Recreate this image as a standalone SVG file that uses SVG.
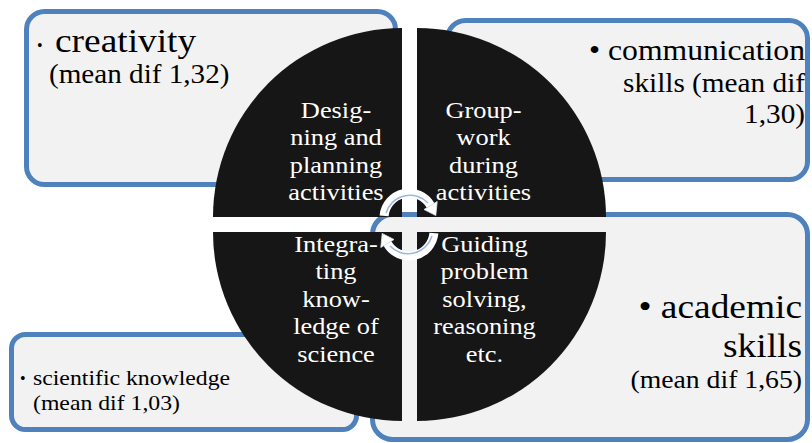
<svg xmlns="http://www.w3.org/2000/svg" width="812" height="443" viewBox="0 0 812 443">
<defs>
<style>
.box{fill:#F2F2F2;stroke:#4F81BD;stroke-width:5}
.quad{fill:#151515}
.qt{font-size:24px;fill:#FFFFFF;text-anchor:middle}
.bt{fill:#000000}
.band{fill:none;stroke:#FFFFFF;stroke-width:9}
.line{fill:none;stroke:#9DB8DE;stroke-width:1.6}
.head{fill:#FFFFFF;stroke:#DCE6F2;stroke-width:0.8}
</style>
<filter id="soft" x="-5%" y="-5%" width="110%" height="110%"><feGaussianBlur stdDeviation="0.7"/></filter>
</defs>
<rect width="812" height="443" fill="#FFFFFF"/>
<g font-family="Liberation Serif, Times New Roman, serif">

<g id="box-creativity">
<rect class="box" x="26.5" y="11.5" width="369" height="173" rx="18"/>
<text class="bt" font-family="Liberation Serif, serif" x="37" y="51" font-size="16">•</text>
<text class="bt" font-family="Liberation Serif, serif" transform="translate(55,0) scale(1.1,1)" x="0" y="52" font-size="34">creativity</text>
<text class="bt" font-family="Liberation Serif, serif" transform="translate(49,0) scale(1.1,1)" x="0" y="83" font-size="26.5">(mean dif 1,32)</text>
</g>

<g id="box-communication">
<rect class="box" x="447.5" y="20.5" width="360" height="159" rx="18"/>
<text class="bt" font-family="Liberation Serif, serif" transform="translate(805,0) scale(1.1,1)" x="0" y="60" font-size="28.8" text-anchor="end">• communication</text>
<text class="bt" font-family="Liberation Serif, serif" transform="translate(805,0) scale(1.1,1)" x="0" y="92" font-size="26.6" text-anchor="end">skills (mean dif</text>
<text class="bt" font-family="Liberation Serif, serif" transform="translate(805,0) scale(1.1,1)" x="0" y="123" font-size="26.6" text-anchor="end">1,30)</text>
</g>

<g id="box-academic">
<rect class="box" x="372.5" y="214.5" width="435" height="225" rx="20"/>
<text class="bt" font-family="Liberation Serif, serif" transform="translate(802,0) scale(1.1,1)" x="0" y="318" font-size="34" text-anchor="end">• academic</text>
<text class="bt" font-family="Liberation Serif, serif" transform="translate(802,0) scale(1.1,1)" x="0" y="357" font-size="34" text-anchor="end">skills</text>
<text class="bt" font-family="Liberation Serif, serif" transform="translate(802,0) scale(1.1,1)" x="0" y="388" font-size="25.2" text-anchor="end">(mean dif 1,65)</text>
</g>

<g id="box-scientific">
<rect class="box" x="11.5" y="334.5" width="345" height="95" rx="14"/>
<text class="bt" font-family="Liberation Serif, serif" x="20" y="384" font-size="16">•</text>
<text class="bt" font-family="Liberation Serif, serif" transform="translate(33,0) scale(1.1,1)" x="0" y="385" font-size="21.6">scientific knowledge</text>
<text class="bt" font-family="Liberation Serif, serif" transform="translate(33,0) scale(1.1,1)" x="0" y="410" font-size="21.6">(mean dif 1,03)</text>
</g>

<g id="quad-designing">
<path class="quad" filter="url(#soft)" d="M402,217 L213,217 A189,189 0 0 1 402,28 Z"/>
<text class="qt" font-family="Liberation Serif, serif" transform="translate(336,0) scale(1.1,1)"><tspan x="0" y="118">Desig-</tspan><tspan x="0" y="145.5">ning and</tspan><tspan x="0" y="173">planning</tspan><tspan x="0" y="200.5">activities</tspan></text>
</g>

<g id="quad-groupwork">
<path class="quad" filter="url(#soft)" d="M417,217 L417,28 A189,189 0 0 1 606,217 Z"/>
<text class="qt" font-family="Liberation Serif, serif" transform="translate(483.5,0) scale(1.1,1)"><tspan x="0" y="118">Group-</tspan><tspan x="0" y="145.5">work</tspan><tspan x="0" y="173">during</tspan><tspan x="0" y="200.5">activities</tspan></text>
</g>

<g id="quad-integrating">
<path class="quad" filter="url(#soft)" d="M402,232 L402,421 A189,189 0 0 1 213,232 Z"/>
<text class="qt" font-family="Liberation Serif, serif" transform="translate(336,0) scale(1.1,1)"><tspan x="0" y="252">Integra-</tspan><tspan x="0" y="279.5">ting</tspan><tspan x="0" y="307">know-</tspan><tspan x="0" y="334.5">ledge of</tspan><tspan x="0" y="362">science</tspan></text>
</g>

<g id="quad-guiding">
<path class="quad" filter="url(#soft)" d="M417,232 L606,232 A189,189 0 0 1 417,421 Z"/>
<text class="qt" font-family="Liberation Serif, serif" transform="translate(484.5,0) scale(1.1,1)"><tspan x="0" y="252">Guiding</tspan><tspan x="0" y="279.5">problem</tspan><tspan x="0" y="307">solving,</tspan><tspan x="0" y="334.5">reasoning</tspan><tspan x="0" y="362">etc.</tspan></text>
</g>
</g>

<g id="connectors">
<g id="arrow-upper">
<path class="band" d="M384.1,215.8 A25,25 0 0 1 430.6,205.5"/>
<path class="line" d="M386,213 A25,25 0 0 1 428,203"/>
<polygon class="head" points="437.2,201.5 424,209.5 435.8,215.5"/>
</g>
<g id="arrow-lower" transform="rotate(180 409 224.5)">
<path class="band" d="M384.1,215.8 A25,25 0 0 1 430.6,205.5"/>
<path class="line" d="M386,213 A25,25 0 0 1 428,203"/>
<polygon class="head" points="437.2,201.5 424,209.5 435.8,215.5"/>
</g>
</g>
</svg>
